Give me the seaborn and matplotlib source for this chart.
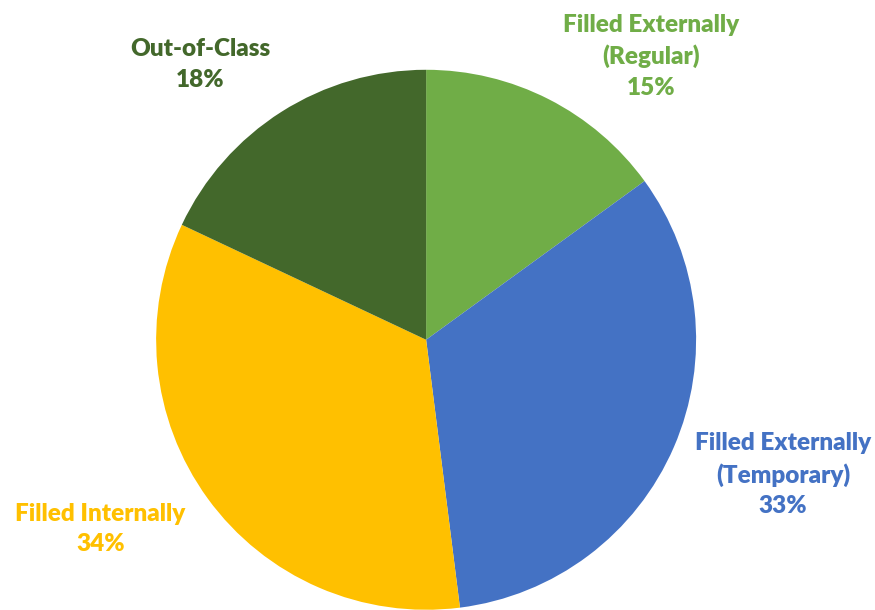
import matplotlib
matplotlib.use("Agg")
import matplotlib.pyplot as plt
import seaborn as sns

# data
categories = ["Filled Externally\n(Regular)", "Filled Externally\n(Temporary)",
              "Filled Internally", "Out-of-Class"]
shares = [15, 33, 34, 18]
colors = ["#70AD47", "#4472C4", "#FFC000", "#43682B"]
# label anchor positions (in pie radius units)
label_pos = [(0.833, 1.05), (1.322, -0.50), (-1.207, -0.70), (-0.837, 1.02)]

sns.set_theme(style="white")
plt.rcParams['font.family'] = ['Lato', 'DejaVu Sans']

fig = plt.figure(figsize=(8.75, 6.1), dpi=100)
ax = fig.add_axes([0.487 - 0.3086, 0.443 - 0.4426, 0.6172, 0.8852])

ax.pie(shares, colors=colors, startangle=90, counterclock=False,
       radius=1, wedgeprops=dict(linewidth=0))

for cat, val, col, (x, y) in zip(categories, shares, colors, label_pos):
    ax.text(x, y, f"{cat}\n{val}%", color=col, ha="center", va="center",
            fontsize=17.5, fontweight="heavy", linespacing=1.47)

ax.set_xlim(-1, 1)
ax.set_ylim(-1, 1)
ax.set_aspect("equal")
ax.axis("off")

fig.savefig("out.png", dpi=100)
